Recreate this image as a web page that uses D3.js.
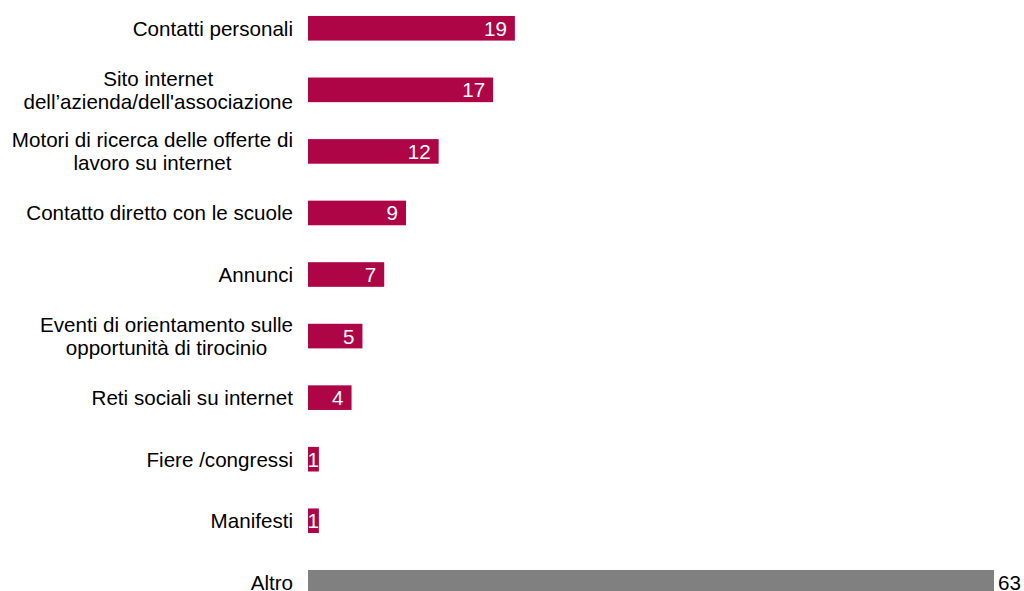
<!DOCTYPE html>
<html><head><meta charset="utf-8">
<script src="https://cdn.jsdelivr.net/npm/d3@7"></script>
<style>body{margin:0;background:#fff}svg{display:block}</style>
</head><body>
<svg id="c" width="1024" height="591"></svg>
<script>
const categories = [
  ["Contatti personali"],
  ["Sito internet", "dell\u2019azienda/dell'associazione"],
  ["Motori di ricerca delle offerte di", "lavoro su internet"],
  ["Contatto diretto con le scuole"],
  ["Annunci"],
  ["Eventi di orientamento sulle", "opportunit\u00e0 di tirocinio"],
  ["Reti sociali su internet"],
  ["Fiere /congressi"],
  ["Manifesti"],
  ["Altro"]
];
const values = [19, 17, 12, 9, 7, 5, 4, 1, 1, 63];
const isOther = [false, false, false, false, false, false, false, false, false, true];

const svg = d3.select("#c");
const font = "'Liberation Sans', Arial, sans-serif";
const fs = 20.6;
const ids = d3.range(categories.length);
const y = d3.scaleBand().domain(ids).range([-2.5, 613.1]).paddingInner(0.6).paddingOuter(0.3);
const x = d3.scaleLinear().domain([0, 63]).range([308, 994]);

svg.selectAll("rect.bar").data(ids).join("rect")
  .attr("x", x(0)).attr("y", i => y(i))
  .attr("width", i => x(values[i]) - x(0)).attr("height", y.bandwidth())
  .attr("fill", i => isOther[i] ? "#808080" : "#AE0547");

// value labels
svg.selectAll("text.val").data(ids).join("text")
  .attr("font-family", font).attr("font-size", fs)
  .attr("x", i => isOther[i] ? x(values[i]) + 4 : x(values[i]) - (values[i] < 2 ? 0 : 8))
  .attr("y", i => y(i) + y.bandwidth() / 2 + 7.5)
  .attr("text-anchor", i => isOther[i] ? "start" : "end")
  .attr("fill", i => isOther[i] ? "#000" : "#fff")
  .text(i => values[i]);

// category labels
const rightEdge = 293;
ids.forEach(i => {
  const lines = categories[i];
  const cy = y(i) + y.bandwidth() / 2;
  const g = svg.append("g");
  if (lines.length === 1) {
    g.append("text").attr("font-family", font).attr("font-size", fs)
      .attr("x", rightEdge).attr("y", cy + 7.5).attr("text-anchor", "end").text(lines[0]);
  } else {
    const ts = lines.map((l, k) => g.append("text").attr("font-family", font).attr("font-size", fs)
      .attr("y", cy + 7.5 + (k - (lines.length - 1) / 2) * 23).attr("text-anchor", "middle").text(l));
    const maxW = d3.max(ts, t => t.node().getComputedTextLength());
    ts.forEach(t => t.attr("x", rightEdge - maxW / 2));
  }
});
</script>
</body></html>
